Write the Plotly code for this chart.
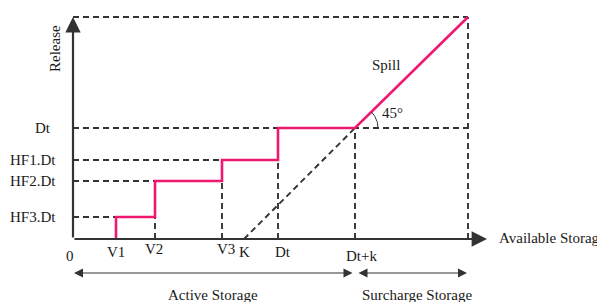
import numpy as np
import plotly.graph_objects as go

# ---- data (storage on x, release on y) ----
storage_labels = ["V1", "V2", "V3", "K", "Dt", "Dt+k"]
storage_vals = [43, 82, 149, 171, 205, 282]
storage_max = 395
release_labels = ["HF3.Dt", "HF2.Dt", "HF1.Dt", "Dt"]
release_vals = [22, 58, 79, 111]
release_max = 222

V1, V2, V3, K, Dtx, DtK = storage_vals
HF3, HF2, HF1, Dt = release_vals

PINK = "#f0186e"
DARK = "#333333"
TXT = "#1a1a1a"
FONT = "Liberation Serif"

fig = go.Figure()

# dashed guide lines
dx, dy = [], []
def seg(x0, y0, x1, y1):
    dx.extend([x0, x1, None]); dy.extend([y0, y1, None])
seg(0, HF3, V1, HF3)
seg(0, HF2, V2, HF2)
seg(0, HF1, V3, HF1)
seg(0, Dt, storage_max, Dt)
seg(0, release_max, storage_max, release_max)
seg(V2, 0, V2, HF3)
seg(V3, 0, V3, HF2)
seg(Dtx, 0, Dtx, HF1)
seg(DtK, 0, DtK, Dt)
seg(storage_max, 0, storage_max, release_max)
seg(K, 0, DtK, Dt)
fig.add_trace(go.Scatter(x=dx, y=dy, mode="lines", hoverinfo="skip",
                         line=dict(color=DARK, width=1.9, dash="6px,4px")))

# release rule (pink)
rx = [V1, V1, V2, V2, V3, V3, Dtx, Dtx, DtK, storage_max]
ry = [0, HF3, HF3, HF2, HF2, HF1, HF1, Dt, Dt, release_max]
fig.add_trace(go.Scatter(x=rx, y=ry, mode="lines", hoverinfo="skip",
                         line=dict(color=PINK, width=2.6)))

# 45 degree arc (decoration)
th = np.linspace(0, np.pi / 4, 20)
fig.add_trace(go.Scatter(x=DtK + 23 * np.cos(th), y=Dt + 23 * np.sin(th), mode="lines",
                         hoverinfo="skip", line=dict(color=DARK, width=1)))

# axes arrows
fig.add_annotation(x=414, y=0, ax=0, ay=0, axref="x", ayref="y", xref="x", yref="y",
                   text="", showarrow=True, arrowhead=2, arrowsize=1.4, arrowwidth=2.2, arrowcolor=DARK)
fig.add_annotation(x=0, y=release_max, ax=0, ay=0, axref="x", ayref="y", xref="x", yref="y",
                   text="", showarrow=True, arrowhead=2, arrowsize=1.4, arrowwidth=2.2, arrowcolor=DARK)

# storage range arrows
ya = -34
fig.add_annotation(x=1, y=ya, ax=DtK - 1, ay=ya, axref="x", ayref="y", text="", showarrow=True,
                   arrowhead=2, arrowside="end+start", arrowsize=1.5, arrowwidth=1.2, arrowcolor=DARK)
fig.add_annotation(x=storage_max - 1, y=ya, ax=DtK + 2, ay=ya, axref="x", ayref="y", text="", showarrow=True,
                   arrowhead=2, arrowside="end+start", arrowsize=1.5, arrowwidth=1.2, arrowcolor=DARK)

def label(x, y, t, xanchor="center", size=15, angle=0):
    fig.add_annotation(x=x, y=y, text=t, showarrow=False, xanchor=xanchor, yanchor="middle",
                       textangle=angle, font=dict(family=FONT, size=size, color=TXT))

# x labels
x_label_y = [-13, -10, -10, -13, -13, -17]
x_label_dx = [0, -1, 4, 0, 5, 6]
for v, t, yy, ddx in zip(storage_vals, storage_labels, x_label_y, x_label_dx):
    label(v + ddx, yy, t)
label(-3, -17, "0")
# y labels
for v, t in zip(release_vals, release_labels):
    label(-15 if t != "Dt" else -20, v, t, xanchor="right")
label(-18, 190, "Release", angle=-90)
label(424, 1, "Available Storage", xanchor="left")
label(140, -56, "Active Storage")
label(344, -56, "Surcharge Storage")
label(313, 174, "Spill")
label(319, 126, "45°")

# the page body adds an 8px offset; ranges compensate so the drawing sits where the reference has it
fig.update_layout(width=605, height=302, margin=dict(l=0, r=0, t=0, b=0),
                  paper_bgcolor="white", plot_bgcolor="white", showlegend=False,
                  xaxis=dict(range=[-65, 540], visible=False, fixedrange=True),
                  yaxis=dict(range=[-71, 231], visible=False, fixedrange=True))
fig.write_html("out.html")
